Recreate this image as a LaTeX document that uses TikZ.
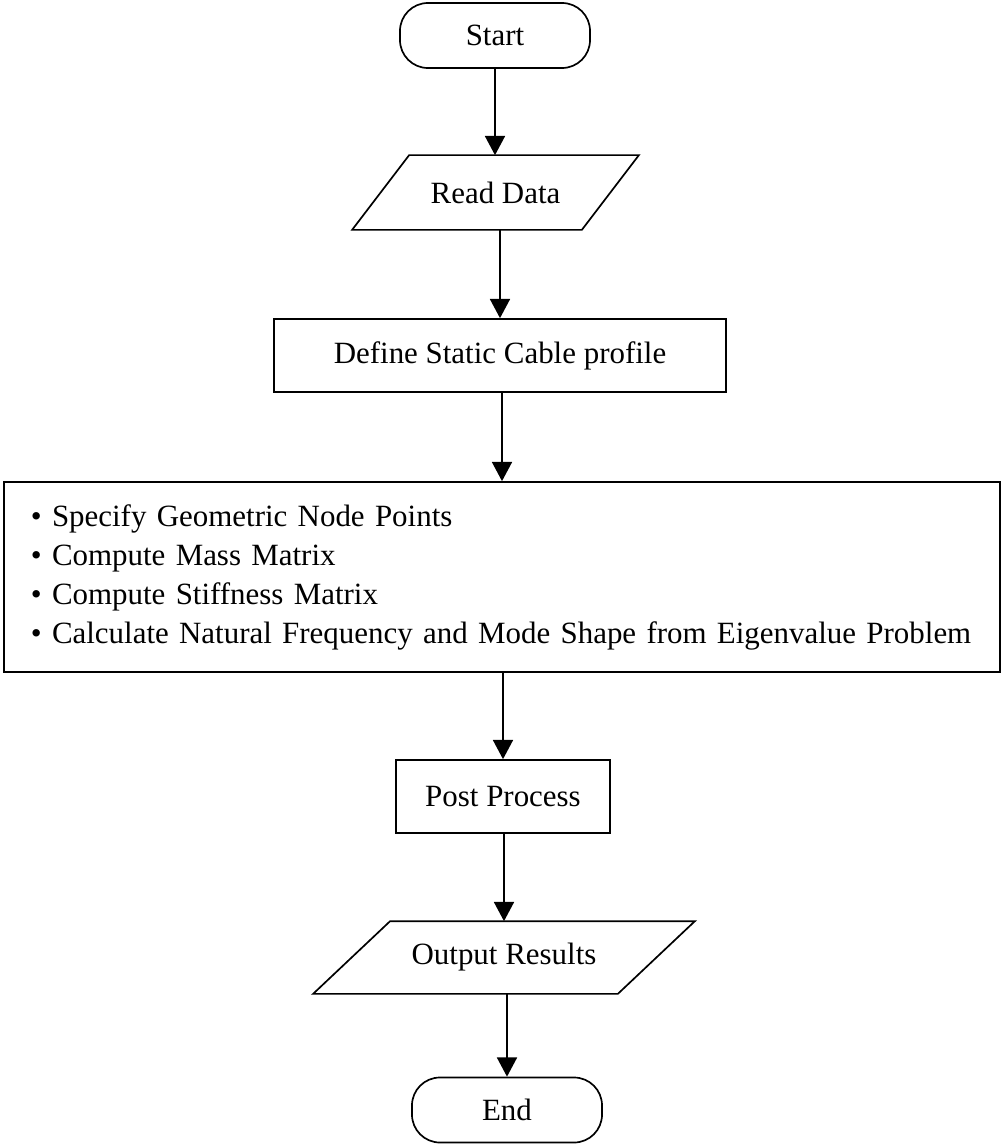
\documentclass[tikz,border=0pt]{standalone}
\usepackage{fontspec}
\setmainfont{Liberation Serif}
\usetikzlibrary{arrows.meta}

\begin{document}
\begin{tikzpicture}[x=0.025cm, y=-0.025cm, >={Triangle[length=4.8mm,width=5mm]},
    line width=1.2pt, font=\fontsize{22}{27.7}\selectfont,
    box/.style={draw, rectangle, inner sep=0pt},
    term/.style={draw, rectangle, rounded corners=0.7cm, minimum width=4.75cm, minimum height=1.625cm},
    io/.style={rectangle, inner sep=0pt, minimum height=1.825cm}]
    \useasboundingbox (0,0) rectangle (1002,1145);

    \node[term] (start) at (495,35.5) {Start};

    \node[io, minimum width=7.125cm] (rd) at (495.5,192.5) {Read Data};
    \draw ([xshift=1.425cm]rd.north west) -- (rd.north east) -- ([xshift=-1.425cm]rd.south east) -- (rd.south west) -- cycle;

    \node[box, minimum width=11.3cm, minimum height=1.825cm] (def) at (500,355.5) {Define Static Cable profile};

    % main computation block
    \node[box, minimum width=24.9cm, minimum height=4.75cm, text width=23.55cm, inner xsep=0.675cm, align=left] (calc) at (502,577)
        {\begin{tabular}{@{}l@{}}
         \textbullet\ Specify Geometric Node Points\\
         \textbullet\ Compute Mass Matrix\\
         \textbullet\ Compute Stiffness Matrix\\
         \textbullet\ Calculate Natural Frequency and Mode Shape from Eigenvalue Problem
         \end{tabular}};

    \node[box, minimum width=5.35cm, minimum height=1.825cm] (pp) at (503,796.5) {Post Process};

    \node[io, minimum width=9.5cm, minimum height=1.775cm] (out) at (504,957.5) {Output Results};
    \draw ([xshift=1.925cm]out.north west) -- (out.north east) -- ([xshift=-1.925cm]out.south east) -- (out.south west) -- cycle;

    \node[term] (end) at (507,1110) {End};

    \draw[->] (start.south) -- (start.south |- rd.north);
    \draw[->] (rd.south -| def.north) -- (def.north);
    \draw[->] (def.south -| calc.north) -- (calc.north);
    \draw[->] (calc.south -| pp.north) -- (pp.north);
    \draw[->] (pp.south -| out.north) -- (out.north);
    \draw[->] (out.south -| end.north) -- (end.north);
\end{tikzpicture}
\end{document}
